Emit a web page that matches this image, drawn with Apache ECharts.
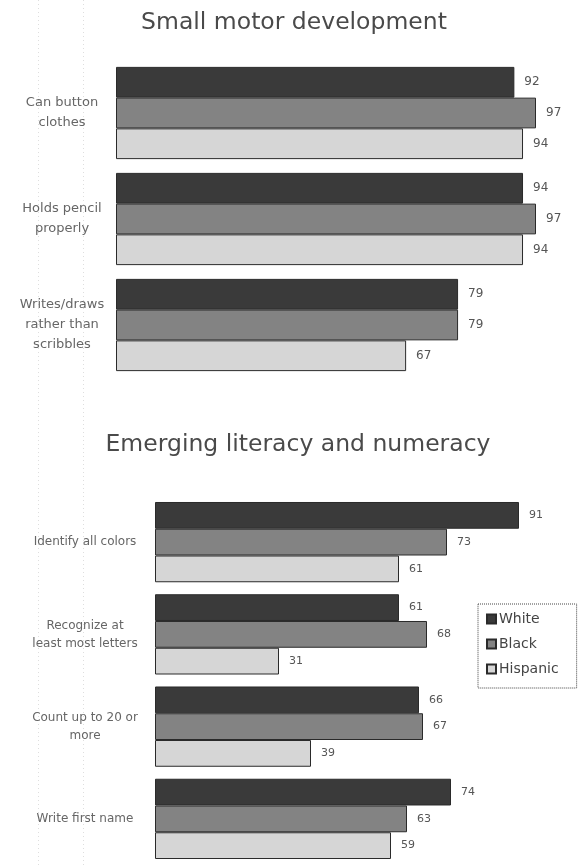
<!DOCTYPE html>
<html>
<head>
<meta charset="utf-8">
<style>
  html, body { margin: 0; padding: 0; background: #ffffff; }
  #chart { width: 580px; height: 865px; }
</style>
<script src="https://cdn.jsdelivr.net/npm/echarts@6/dist/echarts.min.js"></script>
</head>
<body>
<div id="chart"></div>
<script>
// Small motor development (percent of children)
const motorCategories = ['Can button\nclothes', 'Holds pencil\nproperly', 'Writes/draws\nrather than\nscribbles'];
const motorWhite = [92, 94, 79];
const motorBlack = [97, 97, 79];
const motorHispanic = [94, 94, 67];

// Emerging literacy and numeracy (percent of children)
const literacyCategories = ['Identify all colors', 'Recognize at\nleast most letters', 'Count up to 20 or\nmore', 'Write first name'];
const literacyWhite = [91, 61, 66, 74];
const literacyBlack = [73, 68, 67, 63];
const literacyHispanic = [61, 31, 39, 59];

const groupNames = ['White', 'Black', 'Hispanic'];
const groupFills = ['#3a3a3a', '#838383', '#d6d6d6'];

const FONT = '"DejaVu Sans", sans-serif';

function barSeries(name, fill, data, axisIndex, labelSize) {
  return {
    type: 'bar',
    name: name,
    xAxisIndex: axisIndex,
    yAxisIndex: axisIndex,
    data: data,
    barGap: '0%',
    barCategoryGap: '13%',
    itemStyle: { color: fill, borderColor: '#2a2a2a', borderWidth: 1 },
    label: {
      show: true,
      position: 'right',
      distance: 10,
      color: '#555',
      fontFamily: FONT,
      fontSize: labelSize
    },
    emphasis: { disabled: true }
  };
}

const chart = echarts.init(document.getElementById('chart'), null, { renderer: 'canvas' });

const series = [];
[motorWhite, motorBlack, motorHispanic].forEach((d, i) => series.push(barSeries(groupNames[i], groupFills[i], d, 0, 12)));
[literacyWhite, literacyBlack, literacyHispanic].forEach((d, i) => series.push(barSeries(groupNames[i], groupFills[i], d, 1, 11)));

function categoryAxis(gridIndex, cats, margin, size, lineHeight) {
  return {
    type: 'category',
    gridIndex: gridIndex,
    data: cats,
    inverse: true,
    axisLine: { show: false },
    axisTick: { show: false },
    splitLine: { show: false },
    axisLabel: {
      align: 'center',
      margin: margin,
      color: '#666',
      fontFamily: FONT,
      fontSize: size,
      lineHeight: lineHeight
    }
  };
}

// faint dotted page guides on the left margin
function guide(x) {
  return { type: 'line', z: -1, shape: { x1: x, y1: 0, x2: x, y2: 865 }, style: { stroke: '#dedede', lineWidth: 1, lineDash: [1, 3] } };
}

chart.setOption({
  animation: false,
  backgroundColor: '#ffffff',
  graphic: [
    guide(38.5),
    guide(83.5),
    { type: 'text', x: 294, y: 23, style: { text: 'Small motor development', fontFamily: FONT, fontSize: 23.5, fill: '#4a4a4a', align: 'center', verticalAlign: 'middle' } },
    { type: 'text', x: 298, y: 445, style: { text: 'Emerging literacy and numeracy', fontFamily: FONT, fontSize: 23.5, fill: '#4a4a4a', align: 'center', verticalAlign: 'middle' } }
  ],
  legend: {
    data: groupNames,
    orient: 'vertical',
    left: 478,
    top: 604,
    padding: [8, 18, 12, 8],
    itemGap: 11,
    itemWidth: 9,
    itemHeight: 9,
    icon: 'rect',
    borderColor: '#444',
    borderWidth: 1,
    borderType: 'dotted',
    textStyle: { fontFamily: FONT, fontSize: 14, color: '#444', padding: [0, 0, 0, -2] },
    selectedMode: false
  },
  grid: [
    { left: 116, width: 433, top: 60, height: 318 },
    { left: 155, width: 400, top: 496, height: 374 }
  ],
  xAxis: [
    { type: 'value', gridIndex: 0, min: 0, max: 100, show: false },
    { type: 'value', gridIndex: 1, min: 0, max: 100, show: false }
  ],
  yAxis: [
    categoryAxis(0, motorCategories, 54, 13, 20),
    categoryAxis(1, literacyCategories, 70, 12, 18)
  ],
  series: series
});
</script>
</body>
</html>
